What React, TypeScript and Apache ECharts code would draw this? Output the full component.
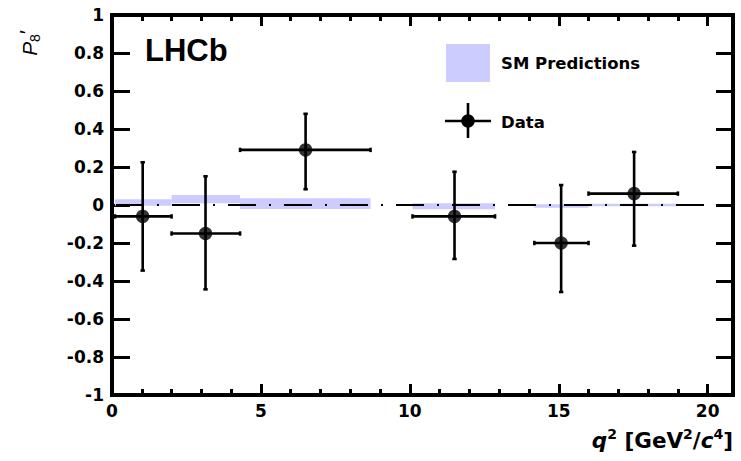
import React, { useEffect, useRef } from 'react';
import * as echarts from 'echarts';

// q^2 bins (GeV^2/c^4)
const binLow = [0.1, 2.0, 4.3, 10.09, 14.18, 16.0];
const binHigh = [2.0, 4.3, 8.68, 12.86, 16.0, 19.0];
// LHCb data points
const dataX = [1.03, 3.14, 6.5, 11.5, 15.08, 17.53];
const dataY = [-0.06, -0.15, 0.29, -0.06, -0.2, 0.06];
const dataYUp = [0.225, 0.151, 0.48, 0.175, 0.105, 0.279];
const dataYDown = [-0.345, -0.444, 0.083, -0.284, -0.458, -0.214];
// SM prediction bands
const smLower = [-0.004, 0.009, -0.021, -0.023, -0.014, -0.007];
const smUpper = [0.03, 0.053, 0.035, 0.009, 0.004, 0.007];
// axis ticks
const xTickLabels = [0, 5, 10, 15, 20];
const xMin = 0;
const xMax = 20.85;
const yMin = -1;
const yMax = 1;

const LABEL_FONT = 'DejaVu Sans';
const BLACK = '#000000';
const BAND = '#ccccff';

const GRID = { left: 112, right: 8, top: 15, bottom: 66 };
const W = 741;
const H = 461;

function axisLine() {
  return { show: true, onZero: false, lineStyle: { color: BLACK, width: 4 } };
}
function tickStyle() {
  return { color: BLACK, width: 3 };
}

export default function App() {
  const ref = useRef<HTMLDivElement>(null);

  useEffect(() => {
    document.body.style.margin = '0';
    if (!ref.current) return;
    const chart = echarts.init(ref.current, undefined, { renderer: 'svg' });

    const bandData = binLow.map((lo, i) => [lo, binHigh[i], smLower[i], smUpper[i]]);
    const errData = dataX.map((x, i) => [x, dataY[i], binLow[i], binHigh[i], dataYDown[i], dataYUp[i]]);
    const pointData = dataX.map((x, i) => [x, dataY[i]]);

    const xAxisBase = () => ({
      type: 'value',
      min: xMin,
      max: xMax,
      interval: 5,
      axisLine: axisLine(),
      axisTick: { show: true, inside: true, length: 11, lineStyle: tickStyle() },
      minorTick: { show: true, splitNumber: 5, length: 6, lineStyle: tickStyle() },
      splitLine: { show: false },
      minorSplitLine: { show: false },
    });
    const yAxisBase = () => ({
      type: 'value',
      min: yMin,
      max: yMax,
      interval: 0.2,
      axisLine: axisLine(),
      axisTick: { show: true, inside: true, length: 18, lineStyle: tickStyle() },
      splitLine: { show: false },
    });

    const option: any = {
      animation: false,
      backgroundColor: '#ffffff',
      grid: { ...GRID },
      xAxis: [
        {
          ...xAxisBase(),
          position: 'bottom',
          axisLabel: {
            show: true,
            margin: 7,
            color: BLACK,
            fontFamily: LABEL_FONT,
            fontWeight: 'bold',
            fontSize: 17,
            showMaxLabel: false,
            formatter: (v: number) => (xTickLabels.includes(v) ? String(v) : ''),
          },
        },
        {
          ...xAxisBase(),
          position: 'top',
          axisLabel: { show: false },
        },
      ],
      yAxis: [
        {
          ...yAxisBase(),
          position: 'left',
          axisLabel: {
            show: true,
            margin: 8,
            color: BLACK,
            fontFamily: LABEL_FONT,
            fontWeight: 'bold',
            fontSize: 17,
            formatter: (v: number) => {
              const r = Math.round(v * 10) / 10;
              return r === 0 ? '0' : String(r);
            },
          },
        },
        {
          ...yAxisBase(),
          position: 'right',
          axisTick: { show: true, inside: true, length: 17, lineStyle: tickStyle() },
          axisLabel: { show: false },
        },
      ],
      series: [
        {
          type: 'custom',
          name: 'SM Predictions',
          xAxisIndex: 0,
          yAxisIndex: 0,
          z: 1,
          data: bandData,
          encode: { x: [0, 1], y: [2, 3] },
          renderItem: (params: any, api: any) => {
            const lo = api.value(0);
            const hi = api.value(1);
            const bot = api.value(2);
            const top = api.value(3);
            const p0 = api.coord([lo, top]);
            const p1 = api.coord([hi, bot]);
            return {
              type: 'rect',
              shape: { x: p0[0], y: p0[1], width: p1[0] - p0[0], height: p1[1] - p0[1] },
              style: { fill: BAND },
            };
          },
        },
        {
          type: 'custom',
          name: 'Data errors',
          xAxisIndex: 0,
          yAxisIndex: 0,
          z: 3,
          data: errData,
          encode: { x: [0, 2, 3], y: [1, 4, 5] },
          renderItem: (params: any, api: any) => {
            const x = api.value(0);
            const y = api.value(1);
            const xl = api.value(2);
            const xh = api.value(3);
            const yl = api.value(4);
            const yh = api.value(5);
            const c = api.coord([x, y]);
            const l = api.coord([xl, y]);
            const r = api.coord([xh, y]);
            const d = api.coord([x, yl]);
            const u = api.coord([x, yh]);
            const st = { stroke: BLACK, lineWidth: 2.6 };
            const cap = 2.2;
            return {
              type: 'group',
              children: [
                { type: 'line', shape: { x1: l[0], y1: c[1], x2: r[0], y2: c[1] }, style: st },
                { type: 'line', shape: { x1: c[0], y1: u[1], x2: c[0], y2: d[1] }, style: st },
                { type: 'line', shape: { x1: l[0], y1: c[1] - cap, x2: l[0], y2: c[1] + cap }, style: st },
                { type: 'line', shape: { x1: r[0], y1: c[1] - cap, x2: r[0], y2: c[1] + cap }, style: st },
                { type: 'line', shape: { x1: c[0] - cap, y1: u[1], x2: c[0] + cap, y2: u[1] }, style: st },
                { type: 'line', shape: { x1: c[0] - cap, y1: d[1], x2: c[0] + cap, y2: d[1] }, style: st },
              ],
            };
          },
        },
        {
          type: 'scatter',
          name: 'Data',
          xAxisIndex: 0,
          yAxisIndex: 0,
          z: 4,
          symbol: 'circle',
          symbolSize: 13.5,
          itemStyle: { color: BLACK },
          data: pointData,
          markLine: {
            z: 2,
            silent: true,
            symbol: 'none',
            label: { show: false },
            emphasis: { disabled: true },
            lineStyle: { color: BLACK, width: 2.2, type: [28, 13, 2, 13], dashOffset: 52 },
            data: [{ yAxis: 0 }],
          },
        },
      ],
      graphic: [
        {
          type: 'rect',
          z: 100,
          silent: true,
          shape: {
            x: GRID.left,
            y: GRID.top,
            width: W - GRID.left - GRID.right,
            height: H - GRID.top - GRID.bottom,
          },
          style: { fill: 'none', stroke: BLACK, lineWidth: 4 },
        },
        {
          type: 'text',
          x: 145,
          y: 50,
          style: {
            text: 'LHCb',
            fill: BLACK,
            font: 'bold 31px "Liberation Sans", Arial, sans-serif',
            align: 'left',
            verticalAlign: 'middle',
          },
        },
        {
          type: 'rect',
          shape: { x: 446, y: 44, width: 44, height: 38 },
          style: { fill: BAND },
        },
        {
          type: 'text',
          x: 501,
          y: 63,
          style: {
            text: 'SM Predictions',
            fill: BLACK,
            font: 'bold 16.5px "DejaVu Sans", sans-serif',
            align: 'left',
            verticalAlign: 'middle',
          },
        },
        {
          type: 'line',
          shape: { x1: 445, y1: 121, x2: 491, y2: 121 },
          style: { stroke: BLACK, lineWidth: 2.6 },
        },
        {
          type: 'line',
          shape: { x1: 468, y1: 103, x2: 468, y2: 138 },
          style: { stroke: BLACK, lineWidth: 2.6 },
        },
        {
          type: 'circle',
          shape: { cx: 468, cy: 121, r: 6.75 },
          style: { fill: BLACK },
        },
        {
          type: 'text',
          x: 501,
          y: 122,
          style: {
            text: 'Data',
            fill: BLACK,
            font: 'bold 16.5px "DejaVu Sans", sans-serif',
            align: 'left',
            verticalAlign: 'middle',
          },
        },
        {
          type: 'text',
          x: 733,
          y: 440,
          style: {
            text: '{i|q}{s|2}{n| [GeV}{s|2}{n|/}{i|c}{s|4}{n|]}',
            fill: BLACK,
            align: 'right',
            verticalAlign: 'middle',
            rich: {
              i: { fontFamily: LABEL_FONT, fontWeight: 'bold', fontStyle: 'italic', fontSize: 21.5, fill: BLACK, lineHeight: 27 },
              n: { fontFamily: LABEL_FONT, fontWeight: 'bold', fontSize: 21.5, fill: BLACK, lineHeight: 27 },
              s: { fontFamily: LABEL_FONT, fontWeight: 'bold', fontSize: 14, fill: BLACK, verticalAlign: 'top', lineHeight: 16 },
            },
          },
        },
        {
          type: 'text',
          x: 29,
          y: 43,
          rotation: Math.PI / 2,
          style: {
            text: '{p|P}{s|8}{q|\u2032}',
            fill: BLACK,
            align: 'center',
            verticalAlign: 'middle',
            rich: {
              p: { fontFamily: 'Liberation Sans', fontStyle: 'italic', fontSize: 21, fill: BLACK, lineHeight: 26 },
              s: { fontFamily: 'Liberation Sans', fontSize: 14, fill: BLACK, verticalAlign: 'bottom', lineHeight: 16 },
              q: { fontFamily: 'Liberation Sans', fontSize: 21, fill: BLACK, verticalAlign: 'top', lineHeight: 22 },
            },
          },
        },
      ],
    };

    chart.setOption(option);
    return () => {
      chart.dispose();
    };
  }, []);

  return <div ref={ref} style={{ width: W, height: H }} />;
}
